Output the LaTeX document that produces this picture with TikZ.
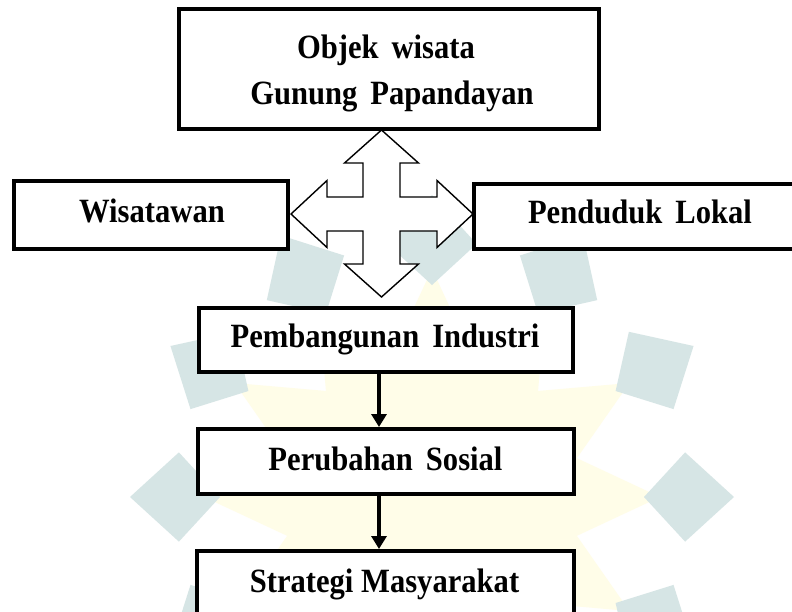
\documentclass[tikz,border=0pt]{standalone}
\usepackage{fontspec}
\setmainfont{Liberation Serif}[FakeStretch=0.9]
\usetikzlibrary{arrows.meta}
\definecolor{wmteal}{RGB}{214,229,229}
\definecolor{wmyellow}{RGB}{255,253,232}
\newcommand{\ws}{\hspace{13pt}}
\tikzset{
  box/.style={draw=black, line width=4pt, fill=white, inner sep=0pt},
  lbl/.style={font=\fontsize{34}{40}\selectfont\bfseries, inner sep=0pt, anchor=base},
  conn/.style={draw=black, line width=3.2pt, -{Triangle[width=15pt,length=13pt]}},
  quad/.style={draw=black, line width=1.4pt, fill=white, line join=miter},
}
\begin{document}
\begin{tikzpicture}[x=1pt, y=-1pt]
\clip (0,0) rectangle (792,611);
\fill[white] (0,0) rectangle (792,611);
% watermark
\begin{scope}[shift={(432,497)}, yscale=-1]
  \fill[wmyellow] (0:228) \foreach \a in {15,30,...,345} {-- (\a:{mod(\a,30)==0 ? 228 : 150})} -- cycle;
  \foreach \t in {0,30,...,330}
    \fill[wmteal] (\t:212) -- (\t+10:257) -- (\t:302) -- (\t-10:257) -- cycle;
\end{scope}
% boxes
\node[box, minimum width=420pt, minimum height=119.5pt] (tb) at (389,68.75) {};
\node[box, minimum width=274.5pt, minimum height=68pt] (wt) at (150.75,215) {};
\node[box, minimum width=332.5pt, minimum height=65.5pt] (pl) at (639.75,216.25) {};
\node[box, minimum width=374pt, minimum height=64.5pt] (pi) at (386,339.75) {};
\node[box, minimum width=376.5pt, minimum height=65pt] (ps) at (385.75,461.5) {};
\node[box, minimum width=377pt, minimum height=75pt] (sm) at (385.5,588.5) {};
% labels
\node[lbl] (t1) at (386,58) {Objek\ws wisata};
\node[lbl] (t2) at (392,104) {Gunung\ws Papandayan};
\node[lbl] (t3) at (152,222) {Wisatawan};
\node[lbl] (t4) at (640,223) {Penduduk\ws Lokal};
\node[lbl] (t5) at (385,347) {Pembangunan\ws Industri};
\node[lbl] (t6) at (385.5,470) {Perubahan\ws Sosial};
\node[lbl] (t7) at (384.5,592) {Strategi Masyarakat};
% four-way arrow
\coordinate (qc) at (381.5,214);
\draw[quad] (381.5,130) -- (418.5,163) -- (400,163) -- (400,197) -- (437,197)
  -- (437,180.5) -- (473,214) -- (437,247.5) -- (437,231) -- (400,231)
  -- (400,264) -- (418.5,264) -- (381.5,297) -- (344.5,264) -- (363,264)
  -- (363,231) -- (327,231) -- (327,247.5) -- (291,214) -- (327,180.5)
  -- (327,197) -- (363,197) -- (363,163) -- (344.5,163) -- cycle;
% connectors
\coordinate (ax) at (379,0);
\draw[conn] (pi.south -| ax) -- (ps.north -| ax);
\draw[conn] (ps.south -| ax) -- (sm.north -| ax);
\end{tikzpicture}
\end{document}
